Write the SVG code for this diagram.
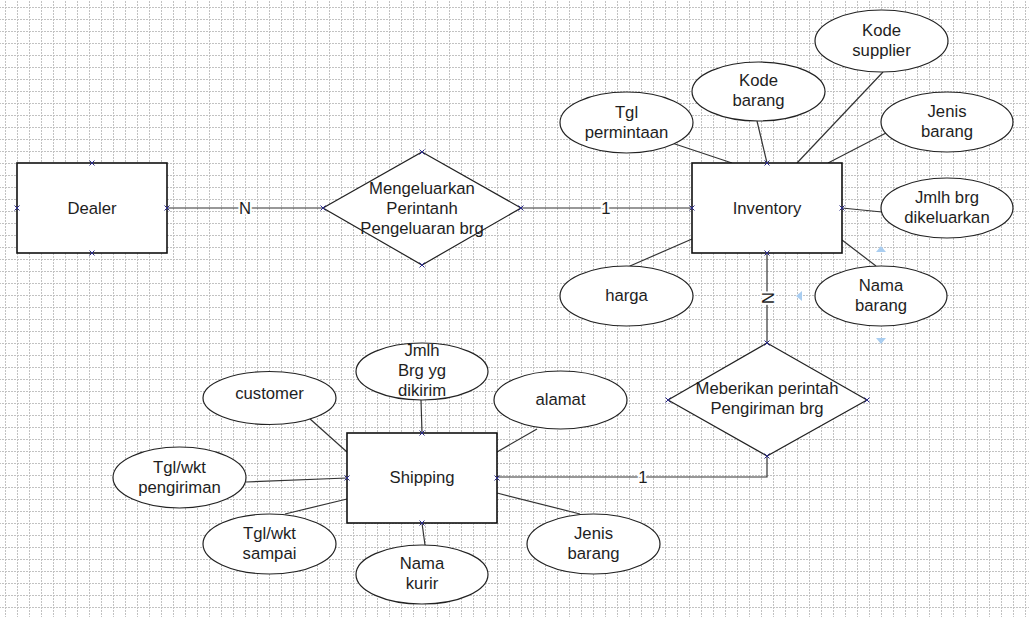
<svg xmlns="http://www.w3.org/2000/svg" width="1029" height="617" viewBox="0 0 1029 617">
<defs>
<pattern id="grid" x="5" y="7" width="12" height="12" patternUnits="userSpaceOnUse">
<path d="M0.5 0V12M0 0.5H12" stroke="#c2c2c2" stroke-width="1" stroke-dasharray="2 1" fill="none"/>
</pattern>
<g id="xm"><path d="M-2.5 -2.5L2.5 2.5M-2.5 2.5L2.5 -2.5" stroke="#2a2a8a" stroke-width="1"/></g>
</defs>
<style>
.ent{fill:#fff;stroke:#111;stroke-width:1.6}
.rel{fill:#fff;stroke:#222;stroke-width:1.2}
.att{fill:#fff;stroke:#222;stroke-width:1.2}
.ln{stroke:#333;stroke-width:1.2;fill:none}
text{font-family:"Liberation Sans",Arial,sans-serif;font-size:16.7px;fill:#1e1e1e;text-anchor:middle}
.lbl{paint-order:stroke;stroke:#fff;stroke-width:4px}
.hd{fill:#a9cdf0}
</style>
<rect width="1029" height="617" fill="#fff"/>
<rect width="1029" height="617" fill="url(#grid)"/>

<g id="connectors">
<path class="ln" d="M167 208H323"/>
<path class="ln" d="M521 208H692"/>
<path class="ln" d="M767 253V343"/>
<path class="ln" d="M767 456V477H497"/>
<path class="ln" d="M672 143L732 163"/>
<path class="ln" d="M757 121L767 163"/>
<path class="ln" d="M883 72L797 163"/>
<path class="ln" d="M886 133L828 163"/>
<path class="ln" d="M842 208L882 212"/>
<path class="ln" d="M630 266L692 239"/>
<path class="ln" d="M876 266L842 240"/>
<path class="ln" d="M309 418L347 452"/>
<path class="ln" d="M246 482L347 478"/>
<path class="ln" d="M285 514L347 499"/>
<path class="ln" d="M425 545L422 523"/>
<path class="ln" d="M497 493L580 514"/>
<path class="ln" d="M421 400L422 433"/>
<path class="ln" d="M537 429L497 452"/>
<text class="lbl" x="245" y="214">N</text>
<text class="lbl" x="606" y="214">1</text>
<text class="lbl" x="643" y="483">1</text>
<text class="lbl" transform="translate(768 298) rotate(90)" y="6">N</text>
</g>

<g id="dealer">
<rect class="ent" x="17" y="163" width="150" height="90"/>
<text x="92" y="214">Dealer</text>
<use href="#xm" x="92" y="163"/><use href="#xm" x="92" y="253"/><use href="#xm" x="17" y="208"/><use href="#xm" x="167" y="208"/>
</g>

<g id="mengeluarkan">
<path class="rel" d="M422 152L521 208L422 265L323 208Z"/>
<text x="422" y="194">Mengeluarkan</text>
<text x="422" y="214">Perintanh</text>
<text x="422" y="234">Pengeluaran brg</text>
<use href="#xm" x="422" y="152"/><use href="#xm" x="521" y="208"/><use href="#xm" x="422" y="265"/><use href="#xm" x="323" y="208"/>
</g>

<g id="inventory">
<rect class="ent" x="692" y="163" width="150" height="90"/>
<text x="767" y="214">Inventory</text>
<use href="#xm" x="767" y="163"/><use href="#xm" x="767" y="253"/><use href="#xm" x="692" y="208"/><use href="#xm" x="842" y="208"/>
</g>

<g id="meberikan">
<path class="rel" d="M767 343L867 400L767 456L668 400Z"/>
<text x="767" y="394">Meberikan perintah</text>
<text x="767" y="414">Pengiriman brg</text>
<use href="#xm" x="767" y="343"/><use href="#xm" x="867" y="400"/><use href="#xm" x="767" y="456"/><use href="#xm" x="668" y="400"/>
</g>

<g id="shipping">
<rect class="ent" x="347" y="433" width="150" height="90"/>
<text x="422" y="483">Shipping</text>
<use href="#xm" x="422" y="433"/><use href="#xm" x="422" y="523"/><use href="#xm" x="347" y="478"/><use href="#xm" x="497" y="478"/>
</g>

<g id="tgl-permintaan">
<ellipse class="att" cx="626.5" cy="122.5" rx="66.5" ry="30.5"/>
<text x="626.5" y="118">Tgl</text><text x="626.5" y="138">permintaan</text>
</g>
<g id="kode-barang">
<ellipse class="att" cx="758.5" cy="91.5" rx="66.5" ry="29.5"/>
<text x="758.5" y="86">Kode</text><text x="758.5" y="106">barang</text>
</g>
<g id="kode-supplier">
<ellipse class="att" cx="881.5" cy="41" rx="66.5" ry="31"/>
<text x="881.5" y="36">Kode</text><text x="881.5" y="56">supplier</text>
</g>
<g id="jenis-barang-inv">
<ellipse class="att" cx="947" cy="122" rx="66" ry="30"/>
<text x="947" y="117">Jenis</text><text x="947" y="137">barang</text>
</g>
<g id="jmlh-brg-dikeluarkan">
<ellipse class="att" cx="947" cy="208" rx="66" ry="30"/>
<text x="947" y="203">Jmlh brg</text><text x="947" y="223">dikeluarkan</text>
</g>
<g id="harga">
<ellipse class="att" cx="626.5" cy="296" rx="66.5" ry="30"/>
<text x="626.5" y="301">harga</text>
</g>
<g id="nama-barang">
<ellipse class="att" cx="881" cy="296" rx="66" ry="30"/>
<text x="881" y="291">Nama</text><text x="881" y="311">barang</text>
<path class="hd" d="M881 246L886 252H876Z"/>
<path class="hd" d="M796 296L802 291V301Z"/>
<path class="hd" d="M881 344L886 338H876Z"/>
</g>

<g id="jmlh-brg-dikirim">
<ellipse class="att" cx="422" cy="371.5" rx="66" ry="28.5"/>
<text x="422" y="356">Jmlh</text><text x="422" y="376">Brg yg</text><text x="422" y="396">dikirim</text>
</g>
<g id="alamat">
<ellipse class="att" cx="560.5" cy="400" rx="66.5" ry="29"/>
<text x="560.5" y="405">alamat</text>
</g>
<g id="customer">
<ellipse class="att" cx="269.5" cy="398" rx="66.5" ry="26.5"/>
<text x="269.5" y="399">customer</text>
</g>
<g id="tgl-pengiriman">
<ellipse class="att" cx="179.5" cy="477.5" rx="66.5" ry="30.5"/>
<text x="179.5" y="473">Tgl/wkt</text><text x="179.5" y="493">pengiriman</text>
</g>
<g id="tgl-sampai">
<ellipse class="att" cx="269.5" cy="544" rx="66.5" ry="30"/>
<text x="269.5" y="539">Tgl/wkt</text><text x="269.5" y="559">sampai</text>
</g>
<g id="nama-kurir">
<ellipse class="att" cx="422" cy="574.5" rx="66" ry="29.5"/>
<text x="422" y="569">Nama</text><text x="422" y="589">kurir</text>
</g>
<g id="jenis-barang-ship">
<ellipse class="att" cx="593.5" cy="544" rx="66.5" ry="30"/>
<text x="593.5" y="539">Jenis</text><text x="593.5" y="559">barang</text>
</g>
</svg>
